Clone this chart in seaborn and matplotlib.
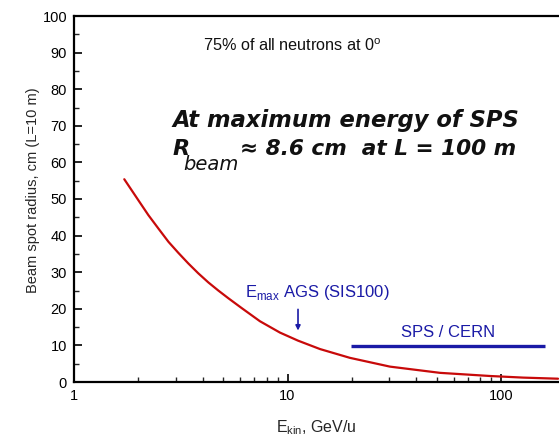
import matplotlib
matplotlib.use("Agg")
import matplotlib.pyplot as plt
import seaborn as sns
import pandas as pd
from matplotlib.ticker import MultipleLocator, FixedLocator, NullFormatter

sns.set_style("white")
plt.rcParams['font.family'] = ['Liberation Sans', 'DejaVu Sans']

# Data
energy = [1.72, 2.00, 2.23, 2.48, 2.77, 3.08, 3.43, 3.82, 4.26, 4.74, 5.28, 6.10,
          7.43, 9.22, 11.2, 14.2, 19.6, 30.2, 51.8, 88.8, 127.0, 185.0]
radius = [55.4, 49.7, 45.6, 42.0, 38.3, 35.3, 32.4, 29.7, 27.2, 25.0, 22.9, 20.2,
          16.6, 13.5, 11.3, 9.0, 6.6, 4.2, 2.5, 1.64, 1.2, 0.9]
sps_range = [19.9, 160.0]
sps_level = 9.8
ags_energy = 11.2
ags_arrow = [20.6, 13.3]

x_ticks = [1, 10, 100]
x_ticklabels = ["1", "10", "100"]
y_ticks = [0, 10, 20, 30, 40, 50, 60, 70, 80, 90, 100]

df = pd.DataFrame({"E": energy, "R": radius})

fig = plt.figure(figsize=(5.59, 4.37), dpi=100)
ax = fig.add_axes([74/559, 55/437, 1 - 74/559, (382-16)/437])

sns.lineplot(data=df, x="E", y="R", ax=ax, color="#c80a0a", linewidth=1.6)
ax.set_xscale("log")
ax.set_xlim(1, 10**((559-74)/213.5))
ax.set_ylim(0, 100)

blue = "#1a1aa6"
ax.plot(sps_range, [sps_level, sps_level], color=blue, linewidth=2.4, solid_capstyle="butt")
ax.text(56.8, 13.4, "SPS / CERN", color=blue, fontsize=12, ha="center", va="center")

ax.annotate("", xy=(ags_energy, ags_arrow[1]), xytext=(ags_energy, ags_arrow[0]),
            arrowprops=dict(arrowstyle="-|>", color=blue, lw=1.2, mutation_scale=7))
ax.text(6.32, 23.3, r"E$_{\mathregular{max}}$ AGS (SIS100)", color=blue,
        fontsize=12, ha="left", va="baseline")

ax.text(4.02, 90.5, r"75% of all neutrons at 0$^{\mathregular{o}}$", fontsize=11.7,
        ha="left", va="baseline", color="#111111")

big = dict(fontweight="bold", fontstyle="italic", color="#111111",
           family=["DejaVu Sans"], va="baseline", ha="left")
ax.text(2.88, 69.6, "At maximum energy of SPS", fontsize=16.3, **big)
ax.text(2.88, 62.0, "R", fontsize=16, **big)
ax.text(3.24, 58.0, "beam", fontsize=14, fontstyle="italic", color="#111111",
        family=["DejaVu Sans"], va="baseline", ha="left")
ax.text(5.99, 62.0, "≈ 8.6 cm  at L = 100 m", fontsize=15.6, **big)

ax.set_xlabel(r"E$_{\mathregular{kin}}$, GeV/u", fontsize=11.5, labelpad=11)
ax.set_ylabel("Beam spot radius, cm (L=10 m)", fontsize=10.5)
ax.yaxis.set_label_coords(-0.07, 0.525)

ax.xaxis.set_major_locator(FixedLocator(x_ticks))
ax.set_xticklabels(x_ticklabels)
minor = [m * d for d in (1, 10, 100) for m in range(2, 10)]
ax.xaxis.set_minor_locator(FixedLocator(minor))
ax.xaxis.set_minor_formatter(NullFormatter())
ax.set_yticks(y_ticks)
ax.yaxis.set_minor_locator(MultipleLocator(5))

ax.tick_params(axis="both", which="major", direction="in", length=6, width=1.2,
               labelsize=10.5, colors="black", pad=5)
ax.tick_params(axis="both", which="minor", direction="in", length=3.5, width=1.0)
ax.tick_params(axis="x", which="both", bottom=True, top=False)
ax.tick_params(axis="y", which="both", left=True, right=False)

for s in ["left", "bottom", "top"]:
    ax.spines[s].set_linewidth(1.6)
    ax.spines[s].set_color("black")
ax.spines["right"].set_visible(False)

fig.savefig("out.png", dpi=100)
